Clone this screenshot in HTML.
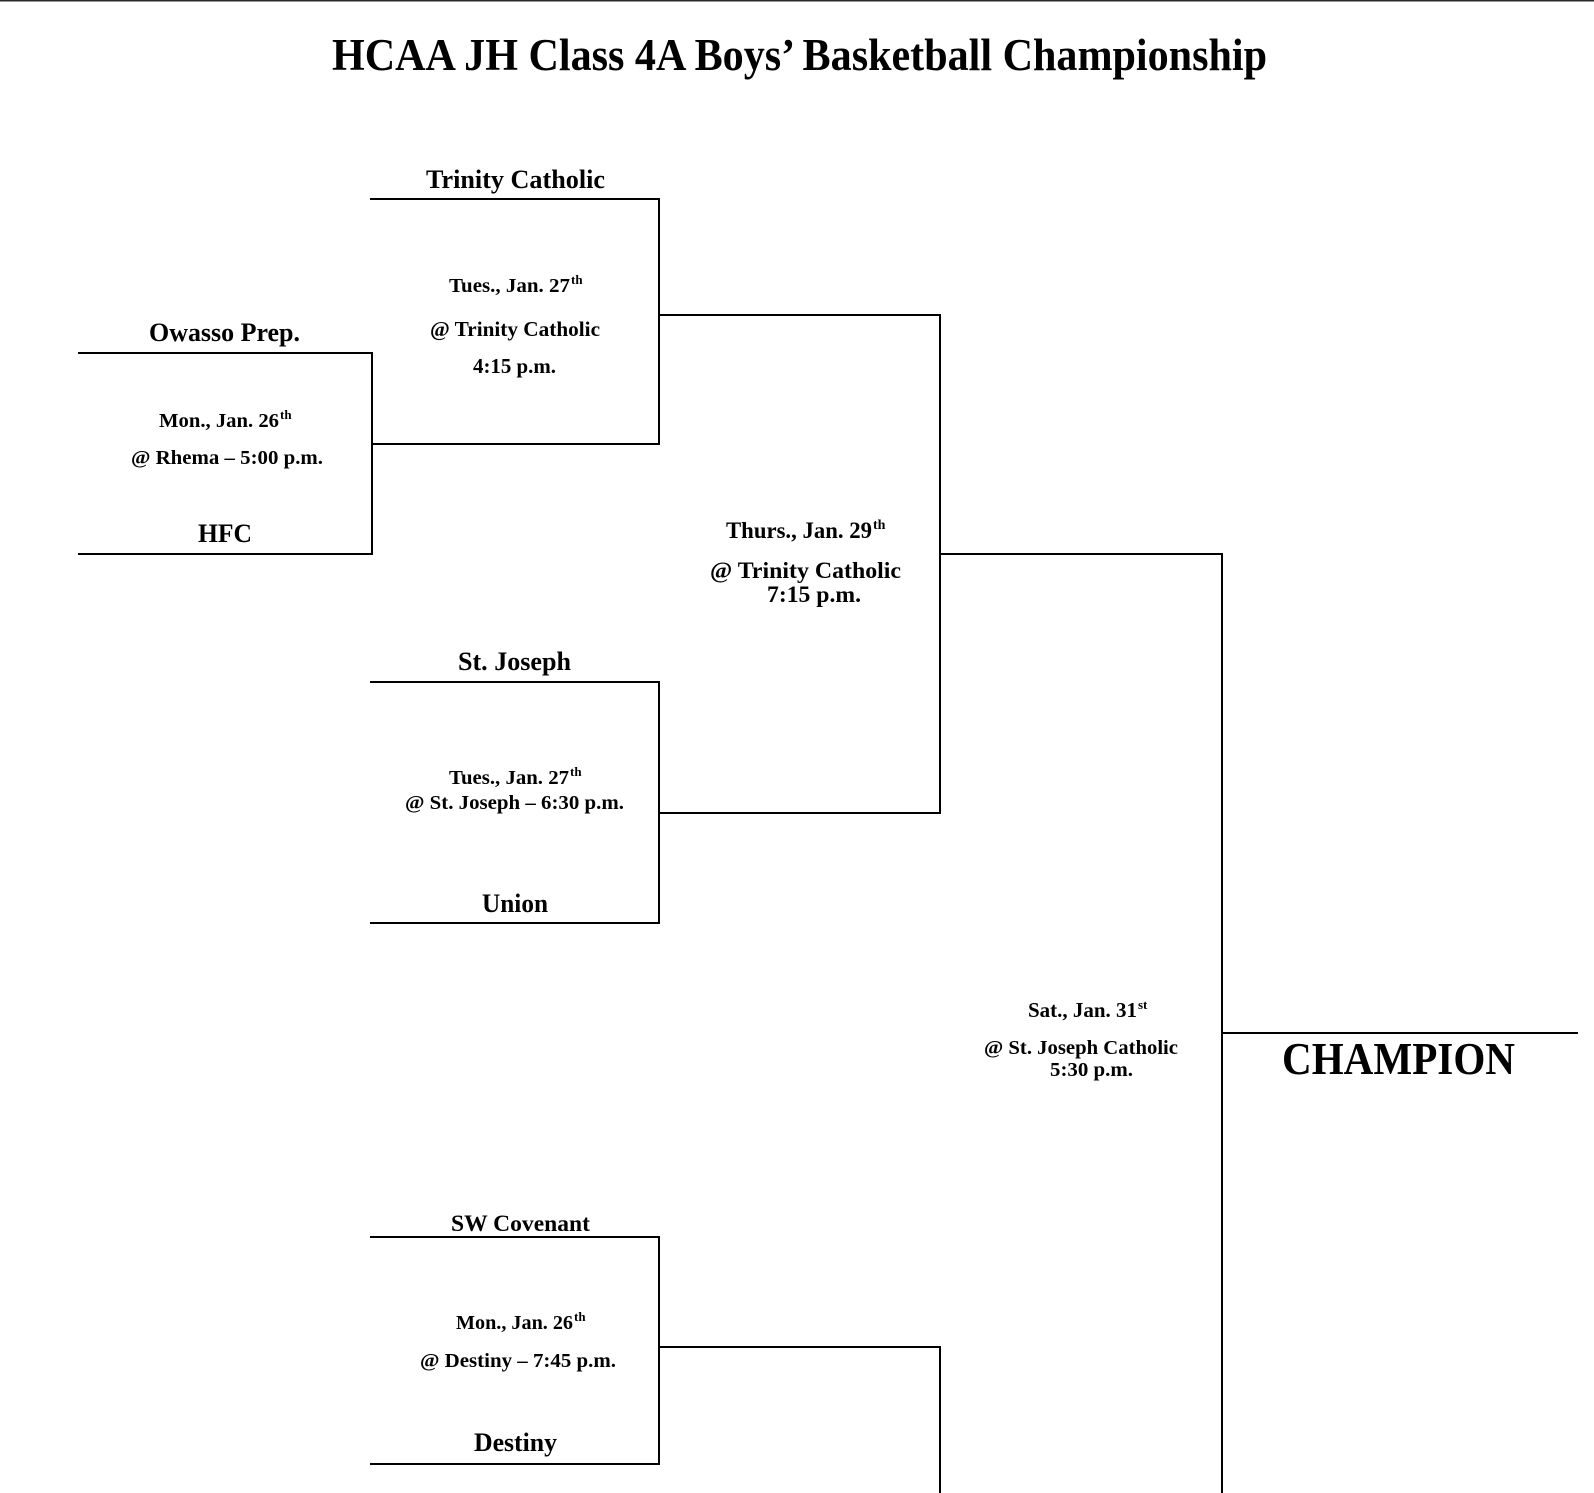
<!DOCTYPE html>
<html>
<head>
<meta charset="utf-8">
<style>
  html, body { margin: 0; padding: 0; background: #fff; }
  body { width: 1594px; height: 1493px; overflow: hidden; }
  svg { display: block; }
  text { font-family: "Liberation Serif", "Times New Roman", serif; font-weight: bold; fill: #000; }
</style>
</head>
<body>
<svg width="1594" height="1493" viewBox="0 0 1594 1493" xmlns="http://www.w3.org/2000/svg">
  <rect x="0" y="0" width="1594" height="1493" fill="#fff"/>
  <rect x="0" y="0" width="1594" height="1.5" fill="#2a2a2a"/>

  <!-- Title -->
  <text x="332" y="70" font-size="45" textLength="935" lengthAdjust="spacingAndGlyphs">HCAA JH Class 4A Boys’ Basketball Championship</text>

  <g stroke="#000" stroke-width="2" fill="none" stroke-linecap="square">
    <!-- Round 1: Owasso / HFC -->
    <line x1="79" y1="353" x2="372" y2="353"/>
    <line x1="79" y1="554" x2="372" y2="554"/>
    <line x1="372" y1="353" x2="372" y2="554"/>
    <line x1="372" y1="444" x2="659" y2="444"/>

    <!-- QF1: Trinity -->
    <line x1="371" y1="199" x2="659" y2="199"/>
    <line x1="659" y1="199" x2="659" y2="444"/>
    <line x1="659" y1="315" x2="940" y2="315"/>

    <!-- QF2: St Joseph / Union -->
    <line x1="371" y1="682" x2="659" y2="682"/>
    <line x1="371" y1="923" x2="659" y2="923"/>
    <line x1="659" y1="682" x2="659" y2="923"/>
    <line x1="659" y1="813" x2="940" y2="813"/>

    <!-- Semi -->
    <line x1="940" y1="315" x2="940" y2="813"/>
    <line x1="940" y1="554" x2="1222" y2="554"/>

    <!-- Final -->
    <line x1="1222" y1="554" x2="1222" y2="1494"/>
    <line x1="1222" y1="1033" x2="1577" y2="1033"/>

    <!-- QF3: SW Covenant / Destiny -->
    <line x1="371" y1="1237" x2="659" y2="1237"/>
    <line x1="371" y1="1464" x2="659" y2="1464"/>
    <line x1="659" y1="1237" x2="659" y2="1464"/>
    <line x1="659" y1="1347" x2="940" y2="1347"/>
    <line x1="940" y1="1347" x2="940" y2="1494"/>
  </g>

  <!-- Teams -->
  <text x="426" y="188" font-size="26" textLength="179" lengthAdjust="spacingAndGlyphs">Trinity Catholic</text>
  <text x="149" y="341" font-size="26" textLength="151" lengthAdjust="spacingAndGlyphs">Owasso Prep.</text>
  <text x="198" y="542" font-size="26" textLength="54" lengthAdjust="spacingAndGlyphs">HFC</text>
  <text x="458" y="670" font-size="26" textLength="113" lengthAdjust="spacingAndGlyphs">St. Joseph</text>
  <text x="482" y="912" font-size="26" textLength="66" lengthAdjust="spacingAndGlyphs">Union</text>
  <text x="451" y="1231" font-size="23.5" textLength="139" lengthAdjust="spacingAndGlyphs">SW Covenant</text>
  <text x="474" y="1451" font-size="26" textLength="83" lengthAdjust="spacingAndGlyphs">Destiny</text>

  <!-- Game 1: Owasso vs HFC -->
  <text x="159" y="427" font-size="20" textLength="120" lengthAdjust="spacingAndGlyphs">Mon., Jan. 26</text>
  <text x="280" y="419" font-size="13">th</text>
  <text x="131" y="464" font-size="20" textLength="192" lengthAdjust="spacingAndGlyphs">@ Rhema – 5:00 p.m.</text>

  <!-- QF1 -->
  <text x="449" y="292" font-size="20" textLength="121" lengthAdjust="spacingAndGlyphs">Tues., Jan. 27</text>
  <text x="571" y="284" font-size="13">th</text>
  <text x="430" y="336" font-size="21" textLength="170" lengthAdjust="spacingAndGlyphs">@ Trinity Catholic</text>
  <text x="473" y="373" font-size="21" textLength="83" lengthAdjust="spacingAndGlyphs">4:15 p.m.</text>

  <!-- QF2 -->
  <text x="449" y="784" font-size="20" textLength="120" lengthAdjust="spacingAndGlyphs">Tues., Jan. 27</text>
  <text x="570" y="776" font-size="13">th</text>
  <text x="405" y="809" font-size="20" textLength="219" lengthAdjust="spacingAndGlyphs">@ St. Joseph – 6:30 p.m.</text>

  <!-- QF3 -->
  <text x="456" y="1329" font-size="20" textLength="117" lengthAdjust="spacingAndGlyphs">Mon., Jan. 26</text>
  <text x="574" y="1321" font-size="13">th</text>
  <text x="420" y="1367" font-size="20" textLength="196" lengthAdjust="spacingAndGlyphs">@ Destiny – 7:45 p.m.</text>

  <!-- Semifinal -->
  <text x="726" y="538" font-size="23" textLength="146" lengthAdjust="spacingAndGlyphs">Thurs., Jan. 29</text>
  <text x="873" y="529" font-size="14">th</text>
  <text x="710" y="578" font-size="23.5" textLength="191" lengthAdjust="spacingAndGlyphs">@ Trinity Catholic</text>
  <text x="767" y="602" font-size="23.5" textLength="94" lengthAdjust="spacingAndGlyphs">7:15 p.m.</text>

  <!-- Final -->
  <text x="1028" y="1017" font-size="21" textLength="109" lengthAdjust="spacingAndGlyphs">Sat., Jan. 31</text>
  <text x="1138" y="1009" font-size="13">st</text>
  <text x="984" y="1054" font-size="20.5" textLength="194" lengthAdjust="spacingAndGlyphs">@ St. Joseph Catholic</text>
  <text x="1050" y="1076" font-size="20.5" textLength="83" lengthAdjust="spacingAndGlyphs">5:30 p.m.</text>

  <!-- Champion -->
  <text x="1282" y="1074" font-size="46" textLength="233" lengthAdjust="spacingAndGlyphs">CHAMPION</text>
</svg>
</body>
</html>
